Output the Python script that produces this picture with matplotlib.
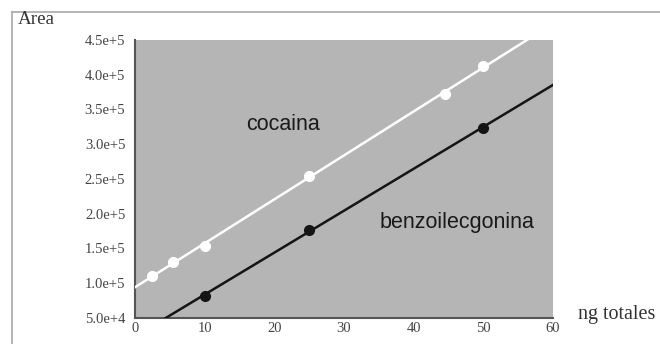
import numpy as np
import matplotlib
matplotlib.use("Agg")
import matplotlib.pyplot as plt
from matplotlib.lines import Line2D

# Calibration data (ng totales vs. peak area)
cocaina_ng = [2.5, 5.5, 10, 25, 44.5, 50]
cocaina_area = [1.10e5, 1.31e5, 1.54e5, 2.55e5, 3.73e5, 4.12e5]

benzo_ng = [10, 25, 50]
benzo_area = [0.82e5, 1.77e5, 3.24e5]

x_ticks = [0, 10, 20, 30, 40, 50, 60]
y_ticks = [5.0e4, 1.0e5, 1.5e5, 2.0e5, 2.5e5, 3.0e5, 3.5e5, 4.0e5, 4.5e5]
y_tick_labels = ["5.0e+4", "1.0e+5", "1.5e+5", "2.0e+5", "2.5e+5",
                 "3.0e+5", "3.5e+5", "4.0e+5", "4.5e+5"]

serif = ["Liberation Serif", "DejaVu Serif"]
sans = ["Liberation Sans", "DejaVu Sans"]

fig = plt.figure(figsize=(6.6, 3.44), dpi=100)
fig.patch.set_facecolor("white")

# Thin frame lines along the top and left edges of the figure
fig.add_artist(Line2D([12 / 660, 12 / 660], [0, 1 - 12 / 344],
                      transform=fig.transFigure, color="#a8a8a8", lw=1.2))
fig.add_artist(Line2D([12 / 660, 1], [1 - 12 / 344, 1 - 12 / 344],
                      transform=fig.transFigure, color="#a8a8a8", lw=1.2))

ax = fig.add_axes([135 / 660, 1 - 318 / 344, 418 / 660, 278 / 344])
ax.set_facecolor("#b5b5b5")
ax.set_xlim(0, 60)
ax.set_ylim(5.0e4, 4.5e5)

xfit = np.array([0, 60])

# Cocaina: least-squares line with white markers
c_slope, c_int = np.polyfit(cocaina_ng, cocaina_area, 1)
ax.plot(xfit, c_slope * xfit + c_int, color="white", lw=1.8, zorder=3)
ax.plot(cocaina_ng, cocaina_area, "o", color="white", ms=7, mec="white", zorder=4)

# Benzoilecgonina: least-squares line with black markers
b_slope, b_int = np.polyfit(benzo_ng, benzo_area, 1)
ax.plot(xfit, b_slope * xfit + b_int, color="#151515", lw=1.8, zorder=3)
ax.plot(benzo_ng, benzo_area, "o", color="#151515", ms=7, zorder=4)

ax.text(21.2, 3.29e5, "cocaina", family=sans, fontsize=15.5,
        ha="center", va="center", color="#1a1a1a")
ax.text(46.2, 1.87e5, "benzoilecgonina", family=sans, fontsize=15.5,
        ha="center", va="center", color="#1a1a1a")

for side in ("top", "right"):
    ax.spines[side].set_visible(False)
ax.spines["left"].set_color("#555555")
ax.spines["left"].set_linewidth(1.5)
ax.spines["bottom"].set_color("#555555")
ax.spines["bottom"].set_linewidth(1.5)

ax.set_xticks(x_ticks)
ax.set_xticklabels([str(v) for v in x_ticks], family=serif, fontsize=10.5, color="#444444")
ax.set_yticks(y_ticks)
ax.set_yticklabels(y_tick_labels, family=serif, fontsize=10.5, color="#444444")
ax.tick_params(axis="both", length=0)
ax.tick_params(axis="y", pad=7)
ax.tick_params(axis="x", pad=3)

fig.text(18 / 660, 1 - 20 / 344, "Area", family=serif, fontsize=13.7,
         ha="left", va="center", color="#333333")
fig.text(578 / 660, 1 - 314 / 344, "ng totales", family=serif, fontsize=14.5,
         ha="left", va="center", color="#333333")

fig.savefig("out.png", dpi=100)
